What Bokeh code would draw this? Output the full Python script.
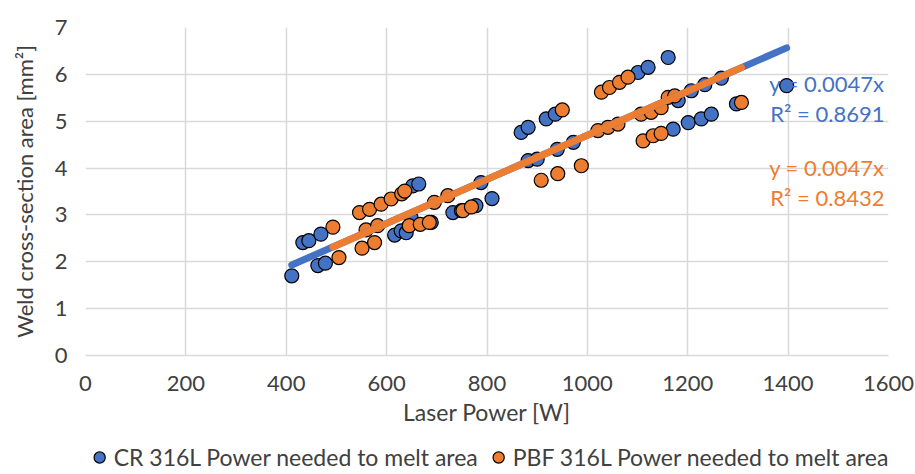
from bokeh.plotting import figure
from bokeh.layouts import column
from bokeh.models import (Range1d, FixedTicker, Legend, LegendItem, Label)
from bokeh.embed import file_html
from bokeh.resources import INLINE

# ---------------- data ----------------
cr_power = [411, 433, 445, 469, 463, 478, 616, 629, 639, 649, 652, 664, 689, 732,
            749, 778, 788, 810, 868, 882, 882, 900, 918, 936, 940, 972, 1101, 1121,
            1161, 1171, 1201, 1227, 1247, 1181, 1207, 1234, 1267, 1297, 1397]
cr_area = [1.70, 2.41, 2.45, 2.59, 1.92, 1.97, 2.57, 2.66, 2.62, 2.93, 3.62, 3.66, 2.84, 3.05,
           3.09, 3.20, 3.69, 3.35, 4.76, 4.87, 4.16, 4.19, 5.05, 5.15, 4.40, 4.55, 6.04, 6.15,
           6.36, 4.83, 4.97, 5.05, 5.15, 5.44, 5.65, 5.78, 5.92, 5.37, 5.76]

pbf_power = [493, 505, 551, 576, 546, 566, 589, 609, 630, 636, 559, 582, 645, 667, 685,
             695, 722, 752, 769, 908, 941, 988, 950, 1028, 1044, 1064, 1081, 1111, 1131,
             1147, 1021, 1041, 1061, 1107, 1127, 1147, 1161, 1174, 1307]
pbf_area = [2.74, 2.09, 2.29, 2.41, 3.05, 3.12, 3.23, 3.34, 3.45, 3.51, 2.68, 2.77, 2.77, 2.80, 2.84,
            3.27, 3.41, 3.09, 3.17, 3.74, 3.88, 4.05, 5.24, 5.62, 5.72, 5.83, 5.94, 4.58, 4.69,
            4.74, 4.80, 4.87, 4.94, 5.15, 5.19, 5.29, 5.51, 5.54, 5.40]

series_names = ["CR 316L Power needed to melt area", "PBF 316L Power needed to melt area"]
trend_slopes = [0.0047, 0.0047]
trend_r2 = [0.8691, 0.8432]

x_ticks = [0, 200, 400, 600, 800, 1000, 1200, 1400, 1600]
y_ticks = [0, 1, 2, 3, 4, 5, 6, 7]

# ---------------- style ----------------
BLUE = "#4472C4"
ORANGE = "#ED7D31"
GRID = "#d9d9d9"
TXT = "#404040"
FONT = "Lato"
FS = "22px"

p = figure(frame_width=803, frame_height=328, output_backend="svg", toolbar_location=None,
           x_range=Range1d(x_ticks[0], x_ticks[-1]), y_range=Range1d(y_ticks[0], y_ticks[-1]),
           min_border_left=85, min_border_right=27, min_border_top=27, min_border_bottom=84)
p.outline_line_color = None
p.background_fill_color = "white"
p.border_fill_color = "white"

p.xaxis.ticker = FixedTicker(ticks=x_ticks)
p.yaxis.ticker = FixedTicker(ticks=y_ticks)
p.xgrid.ticker = FixedTicker(ticks=x_ticks)
p.ygrid.ticker = FixedTicker(ticks=y_ticks)
for g in (p.xgrid, p.ygrid):
    g.grid_line_color = GRID
    g.grid_line_width = 1.5

for ax in (p.xaxis, p.yaxis):
    ax.major_tick_line_color = None
    ax.minor_tick_line_color = None
    ax.major_label_text_font = FONT
    ax.major_label_text_font_size = FS
    ax.major_label_text_color = TXT
    ax.axis_label_text_font = FONT
    ax.axis_label_text_font_size = FS
    ax.axis_label_text_color = TXT
    ax.axis_label_text_font_style = "normal"
p.xaxis.axis_label_text_font_size = "23px"
p.xaxis.axis_line_color = GRID
p.xaxis.axis_line_width = 1.5
p.yaxis.axis_line_color = None
p.xaxis.axis_label = "Laser Power [W]"
p.yaxis.axis_label = "Weld cross-section area [mm²]"
p.xaxis.major_label_standoff = 14
p.yaxis.major_label_standoff = 12
p.xaxis.axis_label_standoff = 4
p.yaxis.axis_label_standoff = 14

r_cr = p.scatter(cr_power, cr_area, size=14, fill_color=BLUE, line_color="black", line_width=1.2)
r_pbf = p.scatter(pbf_power, pbf_area, size=14, fill_color=ORANGE, line_color="black", line_width=1.2)

# trendlines through origin (Excel linear, intercept 0), over each series' data range
for xs, slope, col in ((cr_power, trend_slopes[0], BLUE), (pbf_power, trend_slopes[1], ORANGE)):
    x0, x1 = min(xs), max(xs)
    p.line([x0, x1], [slope * x0, slope * x1], line_color=col, line_width=7, line_cap="round")

# equation labels
label_pos = [((1592, 5.80), (1592, 5.17)), ((1592, 4.01), (1592, 3.37))]
for (pe, pr), slope, r2, col in zip(label_pos, trend_slopes, trend_r2, (BLUE, ORANGE)):
    p.add_layout(Label(x=pe[0], y=pe[1], text=f"y = {slope}x", text_align="right",
                       text_baseline="alphabetic", text_font=FONT, text_font_size=FS,
                       text_color=col))
    p.add_layout(Label(x=pr[0], y=pr[1], text=f"R² = {r2}", text_align="right",
                       text_baseline="alphabetic", text_font=FONT, text_font_size=FS,
                       text_color=col))

# ---------------- legend strip (separate small figure) ----------------
pl = figure(width=915, height=35, output_backend="svg", toolbar_location=None,
            x_range=Range1d(0, 1), y_range=Range1d(0, 1),
            x_axis_location=None, y_axis_location=None,
            min_border_left=0, min_border_right=0, min_border_top=0, min_border_bottom=0)
pl.grid.visible = False
pl.outline_line_color = None
pl.border_fill_color = "white"
# proxy renderers (first point of each series, outside this strip's view) for legend glyphs
l_cr = pl.scatter(cr_power[:1], cr_area[:1], size=14, fill_color=BLUE,
                  line_color="black", line_width=1.2)
l_pbf = pl.scatter(pbf_power[:1], pbf_area[:1], size=14, fill_color=ORANGE,
                   line_color="black", line_width=1.2)

legend = Legend(items=[LegendItem(label=series_names[0], renderers=[l_cr]),
                       LegendItem(label=series_names[1], renderers=[l_pbf])],
                orientation="horizontal", location="center")
legend.label_text_font = FONT
legend.label_text_font_size = "23px"
legend.label_text_color = TXT
legend.glyph_width = 28
legend.glyph_height = 28
legend.label_standoff = 1
legend.spacing = 6
legend.padding = 0
legend.margin = 0
legend.border_line_color = None
legend.background_fill_alpha = 0
pl.add_layout(legend, "center")

layout = column(p, pl, spacing=0)
open("out.html", "w").write(file_html(layout, INLINE))
